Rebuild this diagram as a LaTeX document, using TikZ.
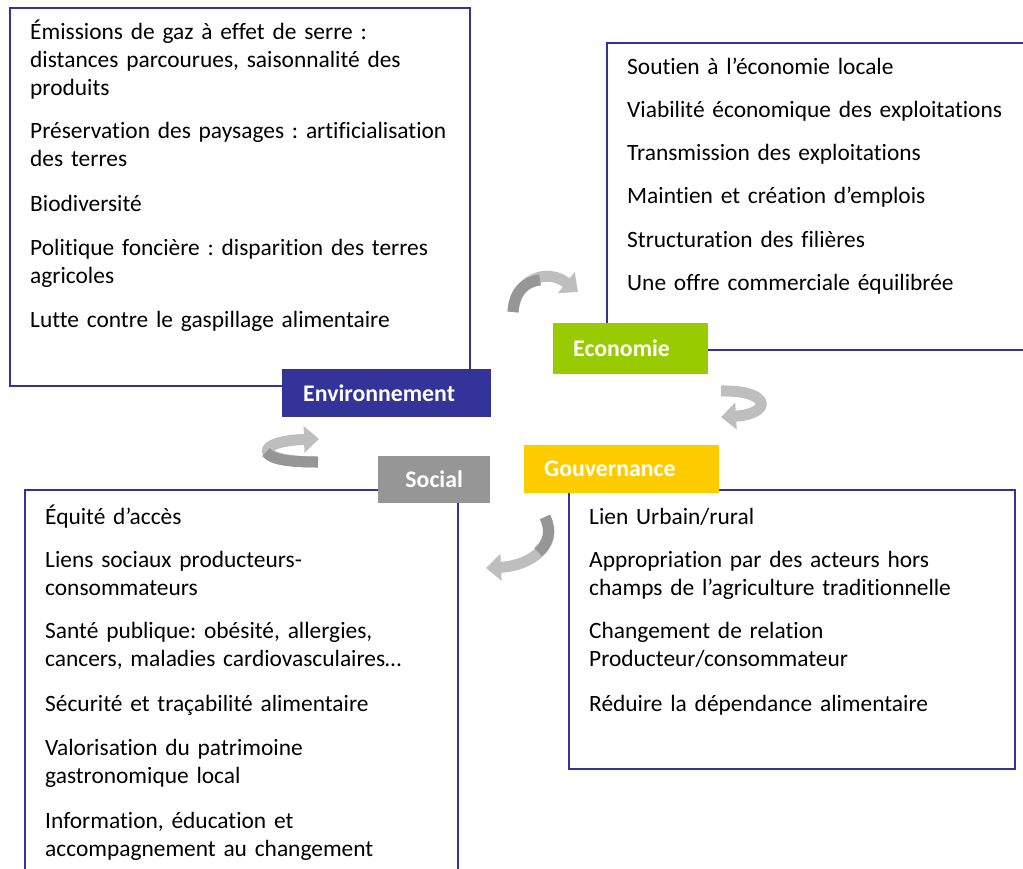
\documentclass[tikz,border=0pt]{standalone}
\usepackage{fontspec}
\setmainfont{Carlito}[Ligatures=NoCommon]
\frenchspacing
\usetikzlibrary{arrows.meta}
\definecolor{boxline}{RGB}{51,51,153}
\definecolor{envfill}{RGB}{51,51,153}
\definecolor{ecofill}{RGB}{153,204,0}
\definecolor{gouvfill}{RGB}{255,204,0}
\definecolor{socfill}{RGB}{150,150,150}
\definecolor{arrdark}{RGB}{150,150,150}
\definecolor{arrlight}{RGB}{190,190,190}
\begin{document}
\begin{tikzpicture}[x=1pt,y=-1pt,
  frame/.style={draw=boxline, line width=1.5pt},
  item/.style={anchor=base west, inner sep=0pt, text width=440pt, align=left,
    font=\fontsize{23.4}{28}\selectfont, text=black},
  tag/.style={anchor=north west, inner ysep=0pt, text=white,
    font=\fontsize{23.8}{26}\bfseries\selectfont},
  cyc/.style={line width=11pt, draw=arrlight, -{Triangle[length=15pt,width=26pt]}}
]
\useasboundingbox (0,0) rectangle (1023,868);

% frames
\draw[frame] (10,8) rectangle (470,386);
\draw[frame] (607,43) rectangle (1040,350);
\draw[frame] (569,490) rectangle (1015,769);
\draw[frame] (25,490) rectangle (458,890);

% labels
\node[tag, fill=envfill, inner xsep=21pt, text width=167pt, align=left, minimum height=48pt] (env) at (282,369) {Environnement};
\node[tag, fill=ecofill, inner xsep=20pt, text width=115pt, align=left, minimum height=51pt] (eco) at (553,323) {Economie};
\node[tag, fill=gouvfill, inner xsep=20pt, text width=155pt, align=left, minimum height=48pt] (gouv) at (524,445) {Gouvernance};
\node[tag, fill=socfill, inner xsep=0pt, text width=112pt, align=center, minimum height=47pt] (soc) at (378,456) {Social};

% environment items
\node[item] (e1) at (30,39) {Émissions de gaz à effet de serre :\\distances parcourues, saisonnalité des\\produits};
\node[item] (e2) at (30,138) {Préservation des paysages : artificialisation\\des terres};
\node[item] (e3) at (30,211) {Biodiversité};
\node[item] (e4) at (30,255) {Politique foncière : disparition des terres\\agricoles};
\node[item] (e5) at (30,327) {Lutte contre le gaspillage alimentaire};

% economy items
\node[item] (c1) at (627,74) {Soutien à l’économie locale};
\node[item] (c2) at (627,117) {Viabilité économique des exploitations};
\node[item] (c3) at (627,160) {Transmission des exploitations};
\node[item] (c4) at (627,203) {Maintien et création d’emplois};
\node[item] (c5) at (627,247) {Structuration des filières};
\node[item] (c6) at (627,290) {Une offre commerciale équilibrée};

% governance items
\node[item] (g1) at (589,524) {Lien Urbain/rural};
\node[item] (g2) at (589,567) {Appropriation par des acteurs hors\\champs de l’agriculture traditionnelle};
\node[item] (g3) at (589,638) {Changement de relation\\Producteur/consommateur};
\node[item] (g4) at (589,711) {Réduire la dépendance alimentaire};

% social items
\node[item] (s1) at (45,524) {Équité d’accès};
\node[item] (s2) at (45,567) {Liens sociaux producteurs-\\consommateurs};
\node[item] (s3) at (45,638) {Santé publique: obésité, allergies,\\cancers, maladies cardiovasculaires…};
\node[item] (s4) at (45,711) {Sécurité et traçabilité alimentaire};
\node[item] (s5) at (45,755) {Valorisation du patrimoine\\gastronomique local};
\node[item] (s6) at (45,828) {Information, éducation et\\accompagnement au changement};

% cycle arrows
\coordinate (a1s) at (513,312);
\coordinate (a1e) at (578,292);
\draw[cyc] (a1s) .. controls (516,278) and (548,268) .. (a1e);
\draw[line width=11pt, draw=arrdark] (a1s) .. controls (514,292) and (524,282) .. (540,280);

\coordinate (a2s) at (721,391);
\coordinate (a2e) at (721,417);
\draw[cyc] (a2s) .. controls (772,390) and (772,414) .. (a2e);

\coordinate (a3s) at (318,462);
\coordinate (a3e) at (319,439);
\draw[cyc] (a3s) .. controls (252,462) and (254,441) .. (a3e);
\draw[line width=11pt, draw=arrdark] (a3s) .. controls (290,462) and (272,460) .. (266,452);

\coordinate (a4s) at (545,517);
\coordinate (a4e) at (486,568);
\draw[cyc] (a4s) .. controls (560,545) and (530,566) .. (a4e);
\draw[line width=11pt, draw=arrdark] (a4s) .. controls (552,532) and (548,544) .. (538,552);
\end{tikzpicture}
\end{document}
